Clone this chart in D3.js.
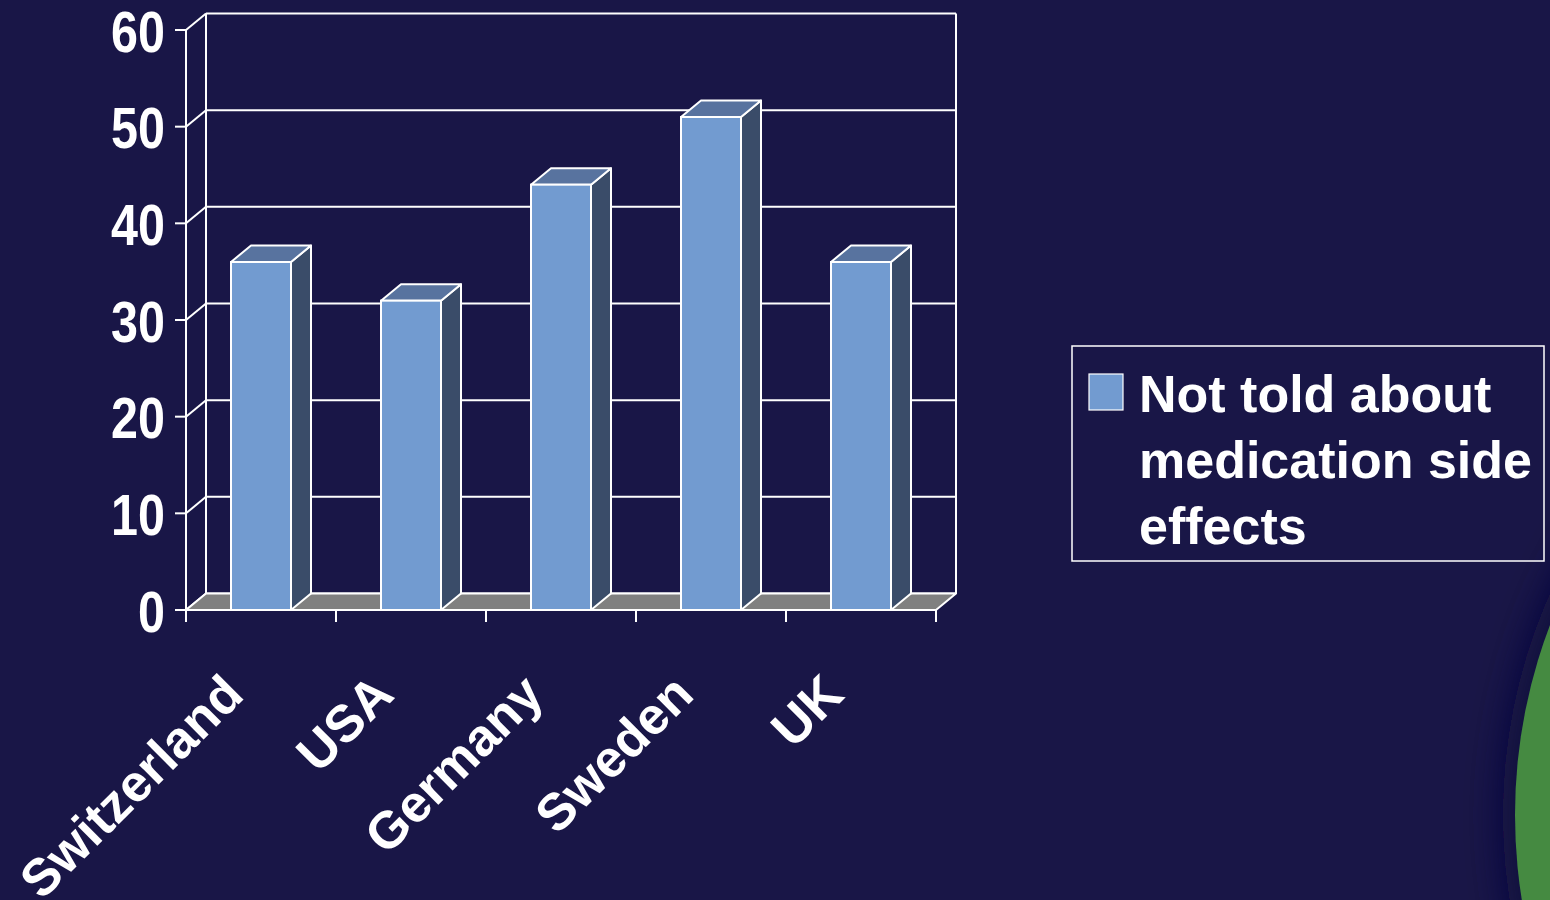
<!DOCTYPE html>
<html>
<head>
<meta charset="utf-8">
<script src="https://cdn.jsdelivr.net/npm/d3@7"></script>
<style>
  html, body { margin: 0; padding: 0; background: #191647; overflow: hidden; }
  svg { display: block; }
  text { font-family: "Liberation Sans", Arial, sans-serif; font-weight: bold; fill: #ffffff; }
</style>
</head>
<body>
<svg id="chart" width="1550" height="900"></svg>
<script>
// Share of respondents not told about medication side effects, by country (%)
const categories = ["Switzerland", "USA", "Germany", "Sweden", "UK"];
const values = [36, 32, 44, 51, 36];
const yTicks = [0, 10, 20, 30, 40, 50, 60];
const seriesName = ["Not told about", "medication side", "effects"];

const W = 1550, H = 900;
const svg = d3.select("#chart");

// background
svg.append("rect").attr("width", W).attr("height", H).attr("fill", "#191647");

// decorative green disc at the right edge with a soft dark halo
const defs = svg.append("defs");
defs.append("filter").attr("id", "halo").attr("x", "-30%").attr("y", "-30%").attr("width", "160%").attr("height", "160%")
  .append("feGaussianBlur").attr("stdDeviation", 18);
svg.append("circle").attr("cx", 2048).attr("cy", 815).attr("r", 545)
  .attr("fill", "#0f0c3c").attr("filter", "url(#halo)");
svg.append("circle").attr("cx", 2048).attr("cy", 815).attr("r", 533).attr("fill", "#458a41");

// 3D geometry
const depthX = 20, depthY = -16.5;
const x = d3.scaleBand().domain(categories).range([186, 936]).padding(0);
const y = d3.scaleLinear().domain([0, 60]).range([610, 30]);
const x0 = x.range()[0], x1 = x.range()[1];
const line = { stroke: "#ffffff", "stroke-width": 2, fill: "none" };
const applyAttrs = (sel, o) => { for (const k in o) sel.attr(k, o[k]); return sel; };

const g = svg.append("g");

// back wall grid lines
yTicks.forEach(t => {
  applyAttrs(g.append("line")
    .attr("x1", x0 + depthX).attr("x2", x1 + depthX)
    .attr("y1", y(t) + depthY).attr("y2", y(t) + depthY), line);
});
// back wall verticals
applyAttrs(g.append("line").attr("x1", x0 + depthX).attr("x2", x0 + depthX)
  .attr("y1", y(60) + depthY).attr("y2", y(0) + depthY), line);
applyAttrs(g.append("line").attr("x1", x1 + depthX).attr("x2", x1 + depthX)
  .attr("y1", y(60) + depthY).attr("y2", y(0) + depthY), line);
// side wall diagonals
yTicks.forEach(t => {
  applyAttrs(g.append("line")
    .attr("x1", x0).attr("x2", x0 + depthX)
    .attr("y1", y(t)).attr("y2", y(t) + depthY), line);
});

// floor
g.append("path")
  .attr("d", `M${x0},${y(0)} L${x1},${y(0)} L${x1 + depthX},${y(0) + depthY} L${x0 + depthX},${y(0) + depthY} Z`)
  .attr("fill", "#808080").attr("stroke", "#ffffff").attr("stroke-width", 2).attr("stroke-linejoin", "round");

// y axis line and ticks
applyAttrs(g.append("line").attr("x1", x0).attr("x2", x0).attr("y1", y(60)).attr("y2", y(0)), line);
yTicks.forEach(t => {
  applyAttrs(g.append("line").attr("x1", x0 - 11).attr("x2", x0).attr("y1", y(t)).attr("y2", y(t)), line);
});
// x axis line and ticks at category boundaries
applyAttrs(g.append("line").attr("x1", x0).attr("x2", x1).attr("y1", y(0)).attr("y2", y(0)), line);
categories.map(c => x(c)).concat([x1]).forEach(px => {
  applyAttrs(g.append("line").attr("x1", px).attr("x2", px).attr("y1", y(0)).attr("y2", y(0) + 12), line);
});

// bars
const barW = x.bandwidth() * 0.4;
const bars = g.selectAll("g.bar").data(categories.map((c, i) => ({ c, v: values[i] })))
  .join("g").attr("class", "bar");
bars.each(function (d) {
  const b = d3.select(this);
  const bx = x(d.c) + (x.bandwidth() - barW) / 2;
  const top = y(d.v), base = y(0);
  // side face
  b.append("path")
    .attr("d", `M${bx + barW},${base} L${bx + barW + depthX},${base + depthY} L${bx + barW + depthX},${top + depthY} L${bx + barW},${top} Z`)
    .attr("fill", "#3a4c69").attr("stroke", "#ffffff").attr("stroke-width", 2).attr("stroke-linejoin", "round");
  // top face
  b.append("path")
    .attr("d", `M${bx},${top} L${bx + depthX},${top + depthY} L${bx + barW + depthX},${top + depthY} L${bx + barW},${top} Z`)
    .attr("fill", "#58739f").attr("stroke", "#ffffff").attr("stroke-width", 2).attr("stroke-linejoin", "round");
  // front face
  b.append("rect").attr("x", bx).attr("y", top).attr("width", barW).attr("height", base - top)
    .attr("fill", "#729bd0").attr("stroke", "#ffffff").attr("stroke-width", 2);
});

// y tick labels (narrow bold digits)
yTicks.forEach(t => {
  g.append("text")
    .attr("transform", `translate(165,${y(t)}) scale(0.85,1)`)
    .attr("text-anchor", "end").attr("dominant-baseline", "central")
    .attr("font-size", 57).attr("dy", "0.03em")
    .text(t);
});

// x category labels rotated -45°
categories.forEach(c => {
  const cx = x(c) + x.bandwidth() / 2;
  g.append("text")
    .attr("transform", `translate(${cx - 15},697) rotate(-45)`)
    .attr("text-anchor", "end")
    .attr("font-size", 52)
    .text(c);
});

// legend
const lg = svg.append("g");
lg.append("rect").attr("x", 1072).attr("y", 346).attr("width", 472).attr("height", 215)
  .attr("fill", "none").attr("stroke", "#ffffff").attr("stroke-width", 1.5);
lg.append("rect").attr("x", 1089).attr("y", 374).attr("width", 34).attr("height", 36)
  .attr("fill", "#729bd0").attr("stroke", "#ffffff").attr("stroke-width", 1.2);
seriesName.forEach((s, i) => {
  lg.append("text").attr("x", 1139).attr("y", 412 + i * 66)
    .attr("font-size", 52).text(s);
});
</script>
</body>
</html>
